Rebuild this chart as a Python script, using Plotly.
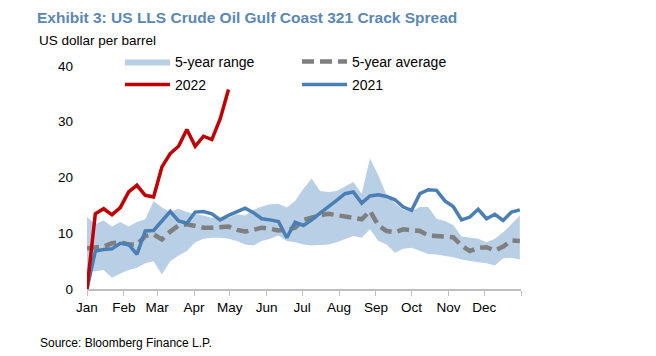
import pandas as pd
import plotly.graph_objects as go

# ---------------- data ----------------
weeks = pd.date_range("2022-01-01", periods=53, freq="7D")

month_ticks = pd.date_range("2022-01-01", periods=13, freq="MS")
month_labels = ["Jan", "Feb", "Mar", "Apr", "May", "Jun",
                "Jul", "Aug", "Sep", "Oct", "Nov", "Dec", ""]

range_upper = [12.9, 11.6, 12.3, 11.2, 12.0, 11.2, 12.0, 12.5, 15.8, 14.6,
               13.8, 14.4, 13.8, 13.4, 13.2, 12.8, 12.6, 12.8, 13.4, 13.2,
               14.2, 14.8, 15.2, 15.3, 14.6, 15.8, 18.0, 19.8, 17.6, 17.4,
               17.6, 18.4, 19.2, 17.1, 23.4, 20.4, 16.8, 15.4, 14.2, 14.0,
               14.7, 14.7, 12.6, 12.2, 11.5, 9.4, 9.2, 9.0, 8.4, 9.0,
               10.2, 11.6, 13.2]
range_lower = [3.2, 3.2, 3.4, 2.0, 2.8, 3.4, 3.8, 4.6, 5.0, 2.6,
               5.0, 6.0, 6.8, 8.4, 9.0, 9.2, 9.2, 9.0, 8.6, 8.0,
               7.8, 8.6, 9.0, 9.6, 8.6, 8.4, 8.0, 7.8, 7.9, 8.0,
               8.4, 9.0, 9.5, 9.2, 10.7, 8.6, 8.0, 6.5, 7.2, 7.4,
               6.8, 6.3, 6.2, 6.0, 5.7, 5.3, 5.0, 4.8, 4.6, 4.2,
               5.5, 5.6, 5.3]
avg_5y = [7.3, 7.4, 7.6, 8.2, 8.4, 8.0, 8.0, 9.5, 9.8, 8.9,
          10.3, 11.4, 11.6, 11.3, 11.0, 11.0, 11.1, 11.2, 10.6, 10.3,
          10.6, 11.0, 10.8, 10.5, 10.6, 11.0, 12.4, 12.9, 13.2, 13.5,
          13.3, 12.9, 12.7, 12.5, 14.0, 11.4, 10.4, 10.2, 10.7, 10.5,
          10.4, 9.6, 9.5, 9.5, 9.3, 7.8, 6.8, 7.4, 7.5, 6.9,
          7.6, 8.7, 8.6]
y2021 = [0.0, 6.8, 7.1, 7.2, 8.2, 8.0, 6.2, 10.4, 10.5, 12.3,
         13.9, 12.2, 11.8, 13.8, 13.9, 13.5, 12.4, 13.2, 13.9, 14.5,
         13.7, 12.6, 12.4, 12.1, 9.2, 12.0, 11.4, 12.4, 13.6, 14.7,
         15.9, 17.1, 17.4, 15.4, 16.7, 16.9, 16.6, 16.0, 14.7, 14.1,
         17.1, 17.8, 17.7, 15.8, 14.8, 12.4, 12.9, 14.3, 12.6, 13.4,
         12.3, 13.8, 14.2]
y2022 = [0.0, 13.5, 14.4, 13.3, 14.6, 17.4, 18.6, 16.8, 16.5, 21.9,
         24.3, 25.6, 28.6, 25.6, 27.4, 26.8, 30.5, 35.8]

# ---------------- styling ----------------
FONT = "Liberation Sans, Arial, sans-serif"
BAND = "#b9cfe6"
RED = "#c00000"
BLUE = "#4a7fb5"
GREY = "#7f7f7f"

# page body has an 8px default margin, so figure coords = screen coords - 8
L, T, PW, PH = 79, 58, 434, 223
FW, FH = 656, 356

def px_x(sx):
    return (sx - 8 - L) / PW

def px_y(sy):
    return (T + PH - (sy - 8)) / PH

fig = go.Figure()

fig.add_trace(go.Scatter(x=weeks, y=range_lower, mode="lines",
                         line=dict(width=0, color=BAND), showlegend=False,
                         hoverinfo="skip"))
fig.add_trace(go.Scatter(x=weeks, y=range_upper, mode="lines", fill="tonexty",
                         fillcolor=BAND, line=dict(width=0, color=BAND),
                         name="5-year range", legend="legend"))
fig.add_trace(go.Scatter(x=weeks, y=avg_5y, mode="lines",
                         line=dict(color=GREY, width=4.5, dash="12px,6px"),
                         name="5-year average", legend="legend3"))
fig.add_trace(go.Scatter(x=weeks, y=y2021, mode="lines",
                         line=dict(color=BLUE, width=3.5),
                         name="2021", legend="legend4"))
fig.add_trace(go.Scatter(x=weeks[:len(y2022)], y=y2022, mode="lines",
                         line=dict(color=RED, width=3.5),
                         name="2022", legend="legend2"))

leg_common = dict(bgcolor="rgba(0,0,0,0)", font=dict(family=FONT, size=14, color="#000"),
                  xanchor="left", yanchor="middle", itemwidth=45,
                  orientation="v")

fig.update_layout(
    width=FW, height=FH,
    margin=dict(l=L, r=FW - L - PW, t=T, b=FH - T - PH),
    paper_bgcolor="white", plot_bgcolor="white",
    font=dict(family=FONT, size=13, color="#000"),
    title=dict(text="<b>Exhibit 3: US LLS Crude Oil Gulf Coast 321 Crack Spread</b>",
               x=29 / FW, xanchor="left", y=1 - 10 / FH, yanchor="middle",
               font=dict(family=FONT, size=15.5, color="#5b87b5")),
    legend=dict(x=px_x(120), y=px_y(62), **leg_common),
    legend2=dict(x=px_x(120), y=px_y(85), **leg_common),
    legend3=dict(x=px_x(297), y=px_y(62), **leg_common),
    legend4=dict(x=px_x(297), y=px_y(85), **leg_common),
    annotations=[
        dict(text="US dollar per barrel", xref="paper", yref="paper",
             x=px_x(37), y=px_y(40), xanchor="left", yanchor="middle",
             showarrow=False, font=dict(family=FONT, size=13.5, color="#000")),
        dict(text="Source: Bloomberg Finance L.P.", xref="paper", yref="paper",
             x=px_x(38), y=px_y(343), xanchor="left", yanchor="middle",
             showarrow=False, font=dict(family=FONT, size=12, color="#000")),
    ],
)

fig.update_xaxes(
    type="date", range=[month_ticks[0], month_ticks[-1]],
    tickvals=month_ticks, ticktext=month_labels,
    showgrid=False, showline=True, linecolor="#bfbfbf", linewidth=1.5,
    ticks="outside", ticklen=5, tickcolor="#bfbfbf",
    tickfont=dict(family=FONT, size=13.5, color="#000"), zeroline=False,
)
fig.update_yaxes(
    range=[0, 40], tickvals=[0, 10, 20, 30, 40],
    showgrid=False, showline=False, zeroline=False, ticks="",
    ticklabelstandoff=13,
    tickfont=dict(family=FONT, size=13.5, color="#000"),
)

fig.write_html("out.html")
